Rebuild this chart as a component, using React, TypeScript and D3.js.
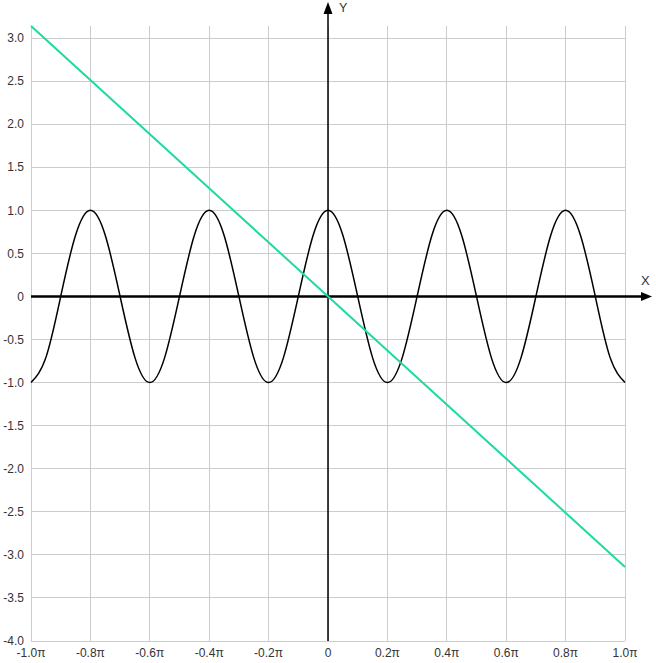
import React from "react";
import * as d3 from "d3";

// x values are in units of π
const xTickValues = [-1.0, -0.8, -0.6, -0.4, -0.2, 0, 0.2, 0.4, 0.6, 0.8, 1.0];
const xTickLabels = ["-1.0π", "-0.8π", "-0.6π", "-0.4π", "-0.2π", "0", "0.2π", "0.4π", "0.6π", "0.8π", "1.0π"];
const yTickValues = [3.0, 2.5, 2.0, 1.5, 1.0, 0.5, 0, -0.5, -1.0, -1.5, -2.0, -2.5, -3.0, -3.5, -4.0];
const yTickLabels = ["3.0", "2.5", "2.0", "1.5", "1.0", "0.5", "0", "-0.5", "-1.0", "-1.5", "-2.0", "-2.5", "-3.0", "-3.5", "-4.0"];

const waveX = [
  -1.0, -0.95, -0.9, -0.85, -0.8, -0.75, -0.7, -0.65, -0.6, -0.55,
  -0.5, -0.45, -0.4, -0.35, -0.3, -0.25, -0.2, -0.15, -0.1, -0.05,
  0, 0.05, 0.1, 0.15, 0.2, 0.25, 0.3, 0.35, 0.4, 0.45,
  0.5, 0.55, 0.6, 0.65, 0.7, 0.75, 0.8, 0.85, 0.9, 0.95, 1.0,
];
const waveY = [
  -1, -0.71, 0, 0.71, 1, 0.71, 0, -0.71, -1, -0.71,
  0, 0.71, 1, 0.71, 0, -0.71, -1, -0.71, 0, 0.71,
  1, 0.71, 0, -0.71, -1, -0.71, 0, 0.71, 1, 0.71,
  0, -0.71, -1, -0.71, 0, 0.71, 1, 0.71, 0, -0.71, -1,
];

const lineX = [-1.0, 1.0];
const lineY = [3.14, -3.14];

const W = 656;
const H = 663;
const PI = Math.PI;

export default function App() {
  const x = d3.scaleLinear().domain([-PI, PI]).range([31, 625]);
  const y = d3.scaleLinear().domain([-4, 3.14]).range([641, 26]);

  const wavePts: [number, number][] = waveX.map((v, i) => [v * PI, waveY[i]]);
  const linePts: [number, number][] = lineX.map((v, i) => [v * PI, lineY[i]]);

  const waveGen = d3
    .line<[number, number]>()
    .x((d) => x(d[0]))
    .y((d) => y(d[1]))
    .curve(d3.curveNatural);
  const lineGen = d3
    .line<[number, number]>()
    .x((d) => x(d[0]))
    .y((d) => y(d[1]));

  const x0 = x(0);
  const y0 = y(0);
  const font = "'Liberation Sans', Arial, sans-serif";

  return (
    <svg
      width={W}
      height={H}
      style={{ position: "absolute", left: 0, top: 0, background: "#fff" }}
      fontFamily={font}
    >
      {/* grid */}
      <g stroke="#cccccc" strokeWidth={1} shapeRendering="crispEdges">
        {xTickValues.map((v) => (
          <line key={"gx" + v} x1={x(v * PI)} x2={x(v * PI)} y1={y(3.14)} y2={y(-4)} />
        ))}
        {yTickValues.map((v) => (
          <line key={"gy" + v} x1={x(-PI)} x2={x(PI)} y1={y(v)} y2={y(v)} />
        ))}
      </g>

      {/* tick labels */}
      <g fontSize={12} fill="#333">
        {yTickValues.map((v, i) => (
          <text key={"ty" + v} x={24} y={y(v)} dy="0.35em" textAnchor="end">
            {yTickLabels[i]}
          </text>
        ))}
        {xTickValues.map((v, i) => (
          <text key={"tx" + v} x={x(v * PI)} y={657} textAnchor="middle">
            {xTickLabels[i]}
          </text>
        ))}
      </g>

      {/* axes */}
      <line x1={x(-PI)} x2={642} y1={y0} y2={y0} stroke="#000" strokeWidth={2.5} />
      <path d={`M${652},${y0} L${641},${y0 - 4.5} L${641},${y0 + 4.5} Z`} fill="#000" />
      <line x1={x0} x2={x0} y1={y(-4)} y2={13} stroke="#000" strokeWidth={1.5} />
      <path d={`M${x0},${2} L${x0 - 4.5},${14} L${x0 + 4.5},${14} Z`} fill="#000" />
      <text x={339} y={11.5} fontSize={12.5} fill="#333">Y</text>
      <text x={641} y={285} fontSize={13} fill="#333">X</text>

      {/* series */}
      <path d={waveGen(wavePts) || ""} fill="none" stroke="#000" strokeWidth={1.5} />
      <path d={lineGen(linePts) || ""} fill="none" stroke="#1fd9a3" strokeWidth={2} />
    </svg>
  );
}
